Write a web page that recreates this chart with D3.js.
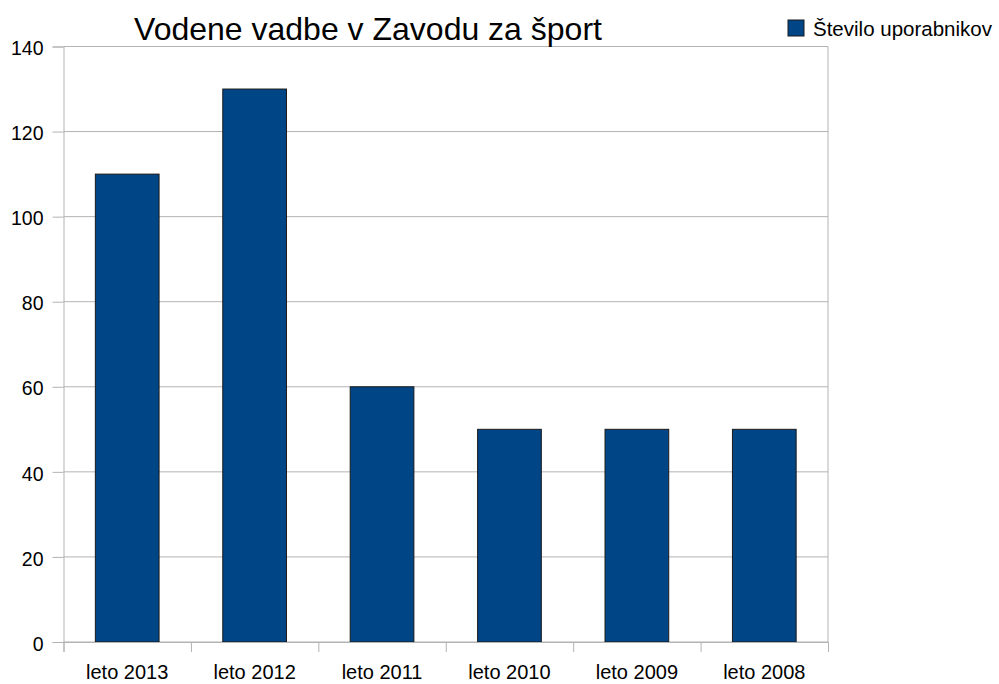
<!DOCTYPE html>
<html>
<head>
  <meta charset="utf8">
  <script src="https://d3js.org/d3.v7.min.js"></script>
  <style>
    body { margin: 0; background: #fff; }
    text { font-family: "Liberation Sans", Arial, sans-serif; fill: #000; }
    .axis text { font-size: 19.5px; }
    .axis path, .axis line { stroke: #b3b3b3; }
  </style>
</head>
<body>
  <svg id="chart" width="999" height="684"></svg>
  <script>
    var categories = ['leto 2013', 'leto 2012', 'leto 2011', 'leto 2010', 'leto 2009', 'leto 2008'];
    var users = [110, 130, 60, 50, 50, 50];
    var yTicks = [0, 20, 40, 60, 80, 100, 120, 140];

    var svg = d3.select('#chart');
    var margin = { left: 63.5, right: 171, top: 46.5, bottom: 42 };
    var width = 999 - margin.left - margin.right;
    var height = 684 - margin.top - margin.bottom;

    var g = svg.append('g')
      .attr('transform', 'translate(' + margin.left + ',' + margin.top + ')');

    var x = d3.scaleBand().domain(categories).range([0, width]).paddingInner(0.5).paddingOuter(0.25);
    var y = d3.scaleLinear().domain([0, 140]).range([height, 0]);

    // gridlines
    g.selectAll('.grid')
      .data(yTicks)
      .enter()
      .append('line')
      .attr('x1', 0)
      .attr('x2', width)
      .attr('y1', (d) => y(d))
      .attr('y2', (d) => y(d))
      .attr('stroke', '#b3b3b3');

    g.append('line')
      .attr('x1', width).attr('x2', width)
      .attr('y1', 0).attr('y2', height)
      .attr('stroke', '#b3b3b3');

    g.selectAll('.bar')
      .data(users)
      .enter()
      .append('rect')
      .attr('x', (d, i) => x(categories[i]))
      .attr('y', (d) => y(d))
      .attr('width', x.bandwidth())
      .attr('height', (d) => height - y(d))
      .attr('fill', '#004586')
      .attr('stroke', '#1a1a1a')
      .attr('stroke-width', 1);

    var yAxis = g.append('g')
      .attr('class', 'axis')
      .call(d3.axisLeft(y).tickValues(yTicks).tickSize(11).tickPadding(9));
    yAxis.selectAll('text').attr('dy', '0.42em');

    // category boundary ticks
    var xb = d3.scaleLinear().domain([0, categories.length]).range([0, width]);
    g.append('g')
      .attr('class', 'axis')
      .attr('transform', 'translate(0,' + height + ')')
      .call(d3.axisBottom(xb).ticks(categories.length).tickSize(10).tickFormat(''));

    g.append('g')
      .attr('class', 'axis')
      .selectAll('text')
      .data(categories)
      .enter()
      .append('text')
      .attr('x', (d) => x(d) + x.bandwidth() / 2)
      .attr('y', height + 37)
      .attr('text-anchor', 'middle')
      .style('font-size', '20px')
      .text((d) => d);

    svg.append('text')
      .attr('x', 368)
      .attr('y', 40)
      .attr('text-anchor', 'middle')
      .style('font-size', '32px')
      .text('Vodene vadbe v Zavodu za šport');

    var legend = svg.append('g').attr('transform', 'translate(788,20)');
    legend.append('rect')
      .attr('width', 16).attr('height', 16)
      .attr('fill', '#004586')
      .attr('stroke', '#1a1a1a');
    legend.append('text')
      .attr('x', 25)
      .attr('y', 16)
      .style('font-size', '20.5px')
      .text('Število uporabnikov');
  </script>
</body>
</html>
